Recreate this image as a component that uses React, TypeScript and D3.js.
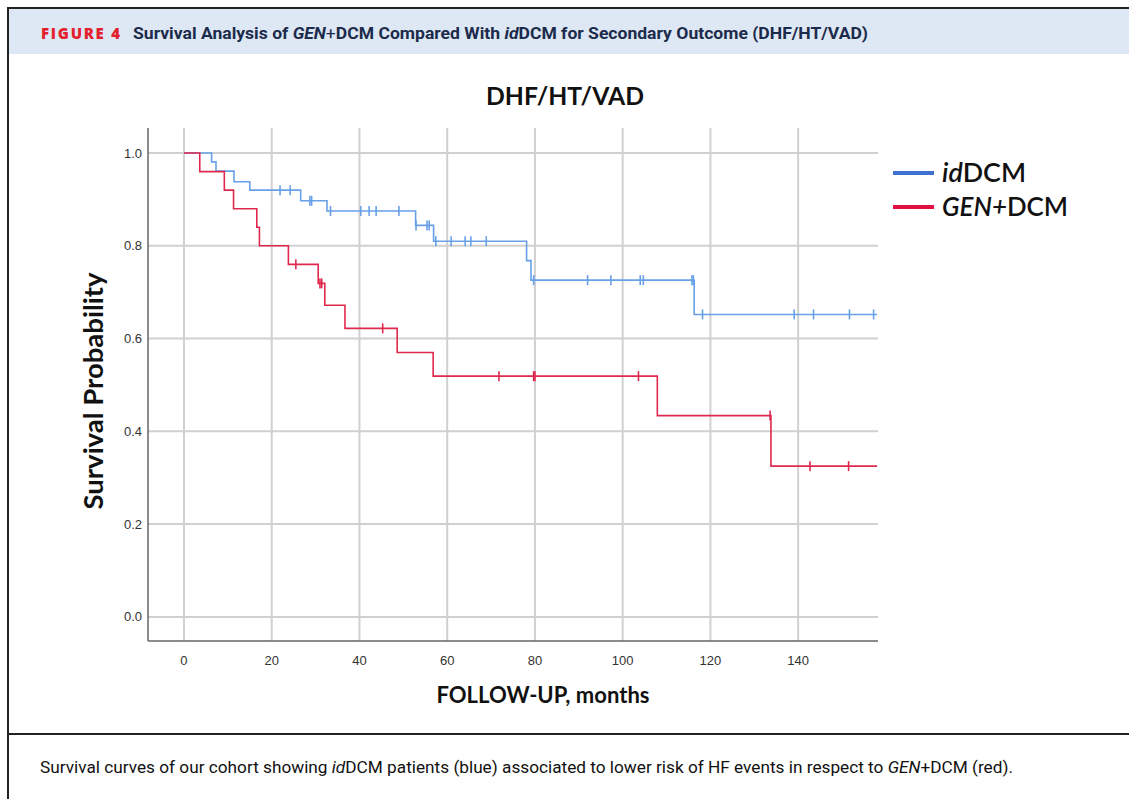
import React from "react";
import * as d3 from "d3";

const width = 1129;
const height = 799;

// plot frame in page pixels
const plotLeft = 148;
const plotRight = 878;
const plotTop = 128;
const plotBottom = 641;

const xTicks = [0, 20, 40, 60, 80, 100, 120, 140];
const yTicks = [0.0, 0.2, 0.4, 0.6, 0.8, 1.0];

// idDCM (blue): event times (months) and survival after each event
const idDcmEventTimes = [6.3, 7.3, 11.4, 15.0, 26.6, 32.6, 52.8, 56.9, 78.1, 79.1, 116.3];
const idDcmSurvival = [0.981, 0.961, 0.938, 0.92, 0.897, 0.875, 0.844, 0.81, 0.768, 0.726, 0.652];
const idDcmCensored = [
  21.9, 24.2, 28.7, 29.1, 33.4, 40.3, 42.2, 43.8, 49.0, 52.9, 55.4, 55.9, 57.4, 60.9,
  64.1, 65.4, 68.9, 79.7, 92.0, 97.3, 104.0, 104.7, 115.8, 116.1, 118.2, 139.1, 143.5,
  151.7, 157.2,
];

// GEN+DCM (red)
const genDcmEventTimes = [3.6, 9.2, 11.3, 16.6, 17.2, 23.8, 30.6, 32.1, 36.7, 48.6, 56.8, 107.9, 133.8];
const genDcmSurvival = [0.96, 0.92, 0.88, 0.84, 0.8, 0.76, 0.719, 0.672, 0.622, 0.57, 0.519, 0.434, 0.325];
const genDcmCensored = [25.5, 31.0, 31.4, 45.3, 71.8, 79.7, 80.0, 103.6, 133.6, 142.7, 151.5];

const followUpEnd = 158;

const blueCurve = "#68a1e8";
const redCurve = "#e0284f";
const blueLegend = "#3f70cf";
const redLegend = "#e21040";

const x = d3.scaleLinear().domain([-8.2, 158.2]).range([plotLeft, plotRight]);
const y = d3.scaleLinear().domain([-0.052, 1.054]).range([plotBottom, plotTop]);

const stepLine = d3
  .line<[number, number]>()
  .x((d) => x(d[0]))
  .y((d) => y(d[1]))
  .curve(d3.curveStepAfter);

const curvePoints = (times: number[], surv: number[]): [number, number][] => {
  const pts: [number, number][] = [[0, 1]];
  times.forEach((t, i) => pts.push([t, surv[i]]));
  pts.push([followUpEnd, surv[surv.length - 1]]);
  return pts;
};

const survivalAt = (times: number[], surv: number[], t: number) => {
  let s = 1;
  times.forEach((et, i) => {
    if (et <= t) s = surv[i];
  });
  return s;
};

const groups = [
  { key: "id", times: idDcmEventTimes, surv: idDcmSurvival, censored: idDcmCensored, color: blueCurve },
  { key: "gen", times: genDcmEventTimes, surv: genDcmSurvival, censored: genDcmCensored, color: redCurve },
];

const chartFont = "Lato, 'Open Sans', sans-serif";
const tickFont = "'Liberation Sans', Arial, sans-serif";

export default function App() {
  return (
    <svg
      width={width}
      height={height}
      style={{ position: "absolute", left: 0, top: 0, background: "#fff" }}
    >
      {/* header band */}
      <rect x={9} y={9} width={width - 9} height={45} fill="#dde8f4" />
      <line x1={8} x2={width} y1={8} y2={8} stroke="#222" strokeWidth={2} />
      <line x1={8} x2={8} y1={7} y2={height} stroke="#222" strokeWidth={2} />
      <line x1={8} x2={width} y1={734} y2={734} stroke="#222" strokeWidth={2} />
      <text
        x={41}
        y={39}
        fill="#e3202d"
        fontFamily="'Open Sans', sans-serif"
        fontWeight={800}
        fontSize={15}
        textLength={79}
        lengthAdjust="spacing"
      >
        FIGURE 4
      </text>
      <text
        x={133}
        y={39}
        fill="#1c2b4c"
        fontFamily="Roboto, 'Open Sans', sans-serif"
        fontWeight={700}
        fontSize={17}
        textLength={735}
        lengthAdjust="spacingAndGlyphs"
      >
        Survival Analysis of <tspan fontStyle="italic">GEN</tspan>
        <tspan fontWeight={400}>+</tspan>DCM Compared With <tspan fontStyle="italic">id</tspan>
        DCM for Secondary Outcome (DHF/HT/VAD)
      </text>

      {/* grid */}
      {yTicks.map((t) => (
        <line
          key={`gy${t}`}
          x1={plotLeft}
          x2={plotRight}
          y1={y(t)}
          y2={y(t)}
          stroke="#d0d0d0"
          strokeWidth={2}
        />
      ))}
      {xTicks.map((t) => (
        <line
          key={`gx${t}`}
          x1={x(t)}
          x2={x(t)}
          y1={plotTop}
          y2={plotBottom}
          stroke="#d0d0d0"
          strokeWidth={2}
        />
      ))}

      {/* axes */}
      <line x1={plotLeft} x2={plotLeft} y1={plotTop} y2={plotBottom} stroke="#666" strokeWidth={1.5} />
      <line x1={plotLeft} x2={plotRight} y1={plotBottom} y2={plotBottom} stroke="#666" strokeWidth={1.5} />

      {yTicks.map((t) => (
        <text
          key={`ly${t}`}
          x={142}
          y={y(t)}
          dy="0.35em"
          textAnchor="end"
          fontFamily={tickFont}
          fontSize={13}
          fill="#333"
        >
          {d3.format(".1f")(t)}
        </text>
      ))}
      {xTicks.map((t) => (
        <text
          key={`lx${t}`}
          x={x(t)}
          y={665}
          textAnchor="middle"
          fontFamily={tickFont}
          fontSize={13}
          fill="#333"
        >
          {t}
        </text>
      ))}

      {/* curves */}
      {groups.map((g) => (
        <g key={g.key}>
          <path
            d={stepLine(curvePoints(g.times, g.surv)) ?? ""}
            fill="none"
            stroke={g.color}
            strokeWidth={1.6}
          />
          {g.censored.map((t, i) => {
            const s = survivalAt(g.times, g.surv, t);
            return (
              <line
                key={i}
                x1={x(t)}
                x2={x(t)}
                y1={y(s) - 5}
                y2={y(s) + 5}
                stroke={g.color}
                strokeWidth={1.6}
              />
            );
          })}
        </g>
      ))}

      {/* titles */}
      <text
        x={565}
        y={105}
        textAnchor="middle"
        fontFamily={chartFont}
        fontWeight={700}
        fontSize={25}
        fill="#111"
        textLength={158}
        lengthAdjust="spacingAndGlyphs"
      >
        DHF/HT/VAD
      </text>
      <text
        transform="translate(103,391) rotate(-90)"
        textAnchor="middle"
        fontFamily={chartFont}
        fontWeight={700}
        fontSize={26}
        fill="#111"
        textLength={237}
        lengthAdjust="spacingAndGlyphs"
      >
        Survival Probability
      </text>
      <text
        x={543}
        y={703}
        textAnchor="middle"
        fontFamily={chartFont}
        fontWeight={700}
        fontSize={22}
        fill="#111"
        textLength={213}
        lengthAdjust="spacingAndGlyphs"
      >
        FOLLOW-UP, months
      </text>

      {/* legend */}
      <line x1={893} x2={934} y1={173} y2={173} stroke={blueLegend} strokeWidth={4} />
      <line x1={893} x2={934} y1={207} y2={207} stroke={redLegend} strokeWidth={4} />
      <text
        x={942}
        y={173}
        dy="0.35em"
        fontFamily={chartFont}
        fontWeight={600}
        fontSize={26}
        fill="#111"
        textLength={84}
        lengthAdjust="spacingAndGlyphs"
      >
        <tspan fontStyle="italic">id</tspan>DCM
      </text>
      <text
        x={942}
        y={207}
        dy="0.35em"
        fontFamily={chartFont}
        fontWeight={600}
        fontSize={26}
        fill="#111"
        textLength={126}
        lengthAdjust="spacingAndGlyphs"
      >
        <tspan fontStyle="italic">GEN+</tspan>DCM
      </text>

      {/* caption */}
      <text
        x={40}
        y={773}
        fontFamily="Roboto, 'Open Sans', sans-serif"
        fontSize={17}
        fill="#111"
        textLength={973}
        lengthAdjust="spacingAndGlyphs"
      >
        Survival curves of our cohort showing <tspan fontStyle="italic">id</tspan>DCM patients (blue)
        associated to lower risk of HF events in respect to <tspan fontStyle="italic">GEN</tspan>+DCM
        (red).
      </text>
    </svg>
  );
}
